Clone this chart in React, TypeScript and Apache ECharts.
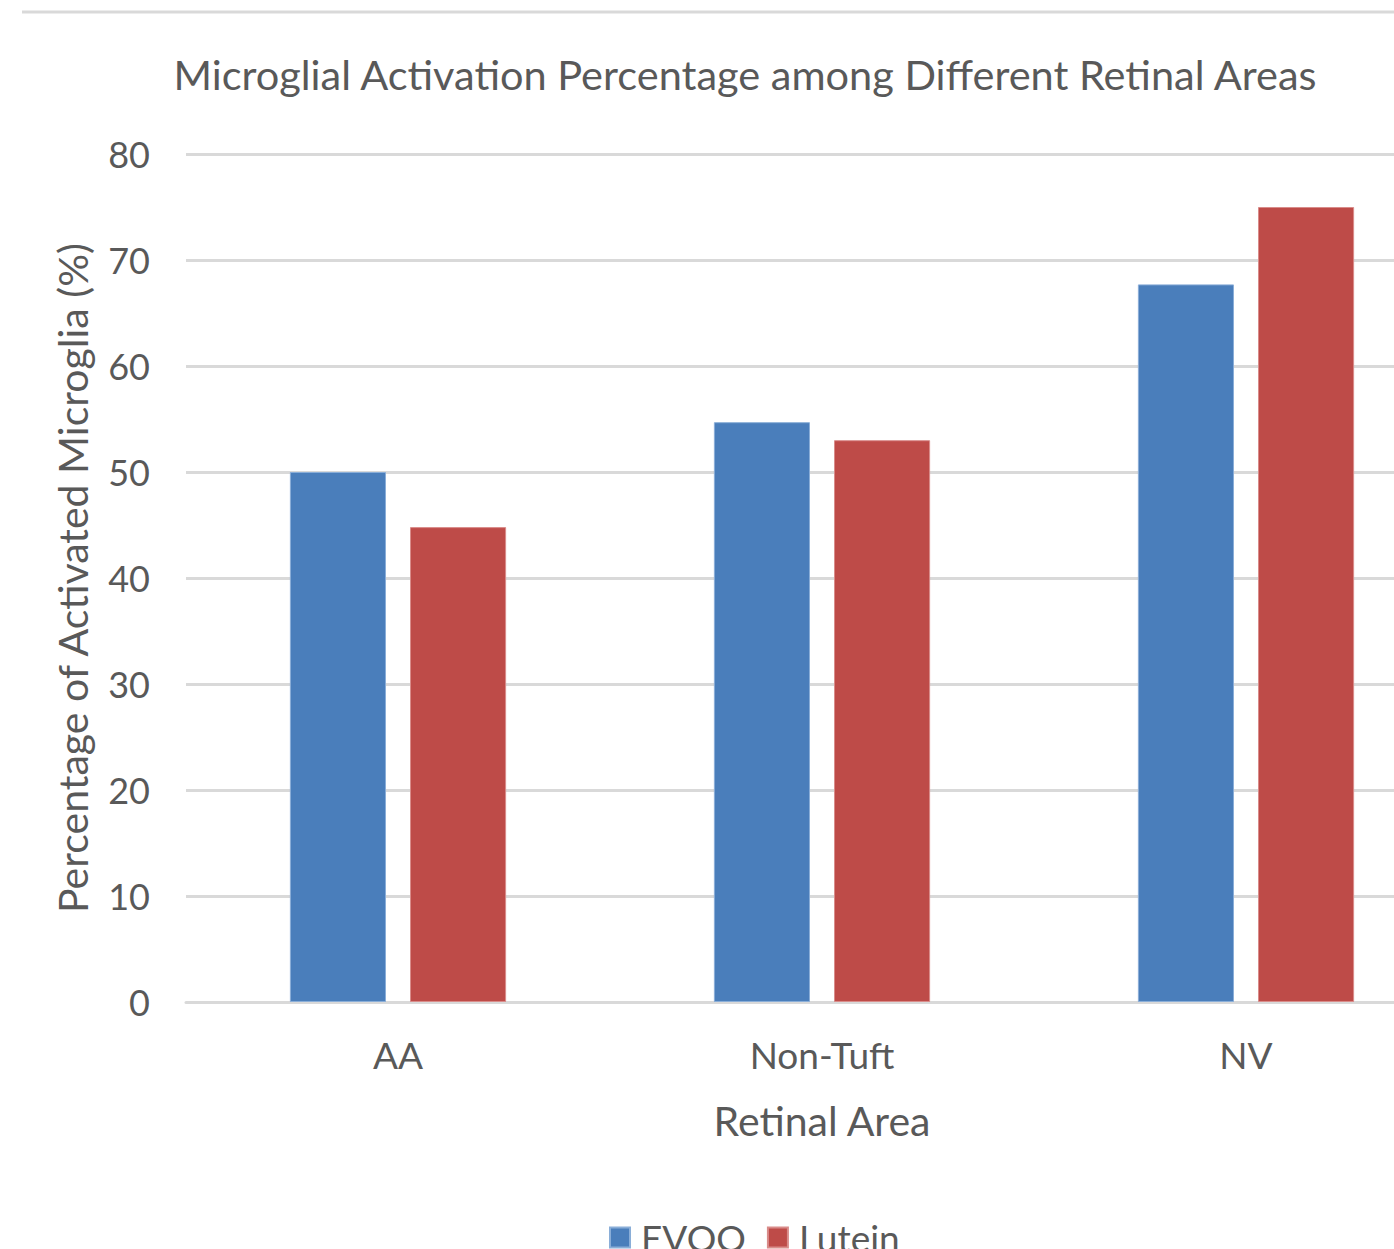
import React, { useEffect, useRef } from "react";
import * as echarts from "echarts";

const categories = ["AA", "Non-Tuft", "NV"];
const evooValues = [50.0, 54.7, 67.7];
const luteinValues = [44.8, 53.0, 75.0];
const seriesNames = ["EVOO", "Lutein"];
const titleText = "Microglial Activation Percentage among Different Retinal Areas";
const yAxisTitle = "Percentage of Activated Microglia (%)";
const xAxisTitle = "Retinal Area";

const FONT = "Lato, 'Open Sans', sans-serif";
const TXT = "#595959";

export default function App() {
  const ref = useRef<HTMLDivElement>(null);
  useEffect(() => {
    if (!ref.current) return;
    const chart = echarts.init(ref.current, undefined, { renderer: "svg" });
    chart.setOption({
      animation: false,
      backgroundColor: "#ffffff",
      textStyle: { fontFamily: FONT },
      title: {
        text: titleText,
        left: "center",
        top: 48,
        textStyle: { fontFamily: FONT, fontSize: 41.5, fontWeight: "normal", color: TXT },
      },
      graphic: [
        {
          type: "line",
          shape: { x1: 22, y1: 12, x2: 1490, y2: 12 },
          style: { stroke: "#d9d9d9", lineWidth: 3 },
        },
      ],
      legend: {
        data: seriesNames,
        left: 604,
        top: 1214,
        icon: "rect",
        itemWidth: 20,
        itemHeight: 20,
        itemGap: 21,
        textStyle: { fontFamily: FONT, fontSize: 37, color: TXT, padding: [0, 0, 0, 6] },
      },
      grid: { left: 186, top: 154, width: 1272, height: 848, containLabel: false },
      xAxis: {
        type: "category",
        data: categories,
        name: xAxisTitle,
        nameLocation: "middle",
        nameGap: 98,
        nameTextStyle: { fontFamily: FONT, fontSize: 41, color: TXT },
        axisLine: { show: true, lineStyle: { color: "#d9d9d9", width: 3 } },
        axisTick: { show: false },
        axisLabel: { margin: 34, fontFamily: FONT, fontSize: 37, color: TXT },
      },
      yAxis: {
        type: "value",
        min: 0,
        max: 80,
        interval: 10,
        name: yAxisTitle,
        nameLocation: "middle",
        nameGap: 93,
        nameTextStyle: { fontFamily: FONT, fontSize: 41, color: TXT },
        axisLine: { show: false },
        axisTick: { show: false },
        axisLabel: { margin: 36, fontFamily: FONT, fontSize: 36, color: TXT },
        splitLine: { lineStyle: { color: "#d9d9d9", width: 3 } },
      },
      series: [
        {
          name: seriesNames[0],
          type: "bar",
          data: evooValues,
          barGap: "25%",
          barCategoryGap: "49%",
          itemStyle: { color: "#4a7ebb", borderColor: "#8aaed8", borderWidth: 1 },
        },
        {
          name: seriesNames[1],
          type: "bar",
          data: luteinValues,
          barGap: "25%",
          barCategoryGap: "49%",
          itemStyle: { color: "#be4b48", borderColor: "#d98c8a", borderWidth: 1 },
        },
      ],
    });
    return () => chart.dispose();
  }, []);
  return (
    <div
      style={{
        position: "absolute",
        left: 0,
        top: 0,
        width: 1394,
        height: 1249,
        overflow: "hidden",
        background: "#fff",
      }}
    >
      <div ref={ref} style={{ position: "absolute", left: 0, top: 0, width: 1490, height: 1300 }} />
    </div>
  );
}
